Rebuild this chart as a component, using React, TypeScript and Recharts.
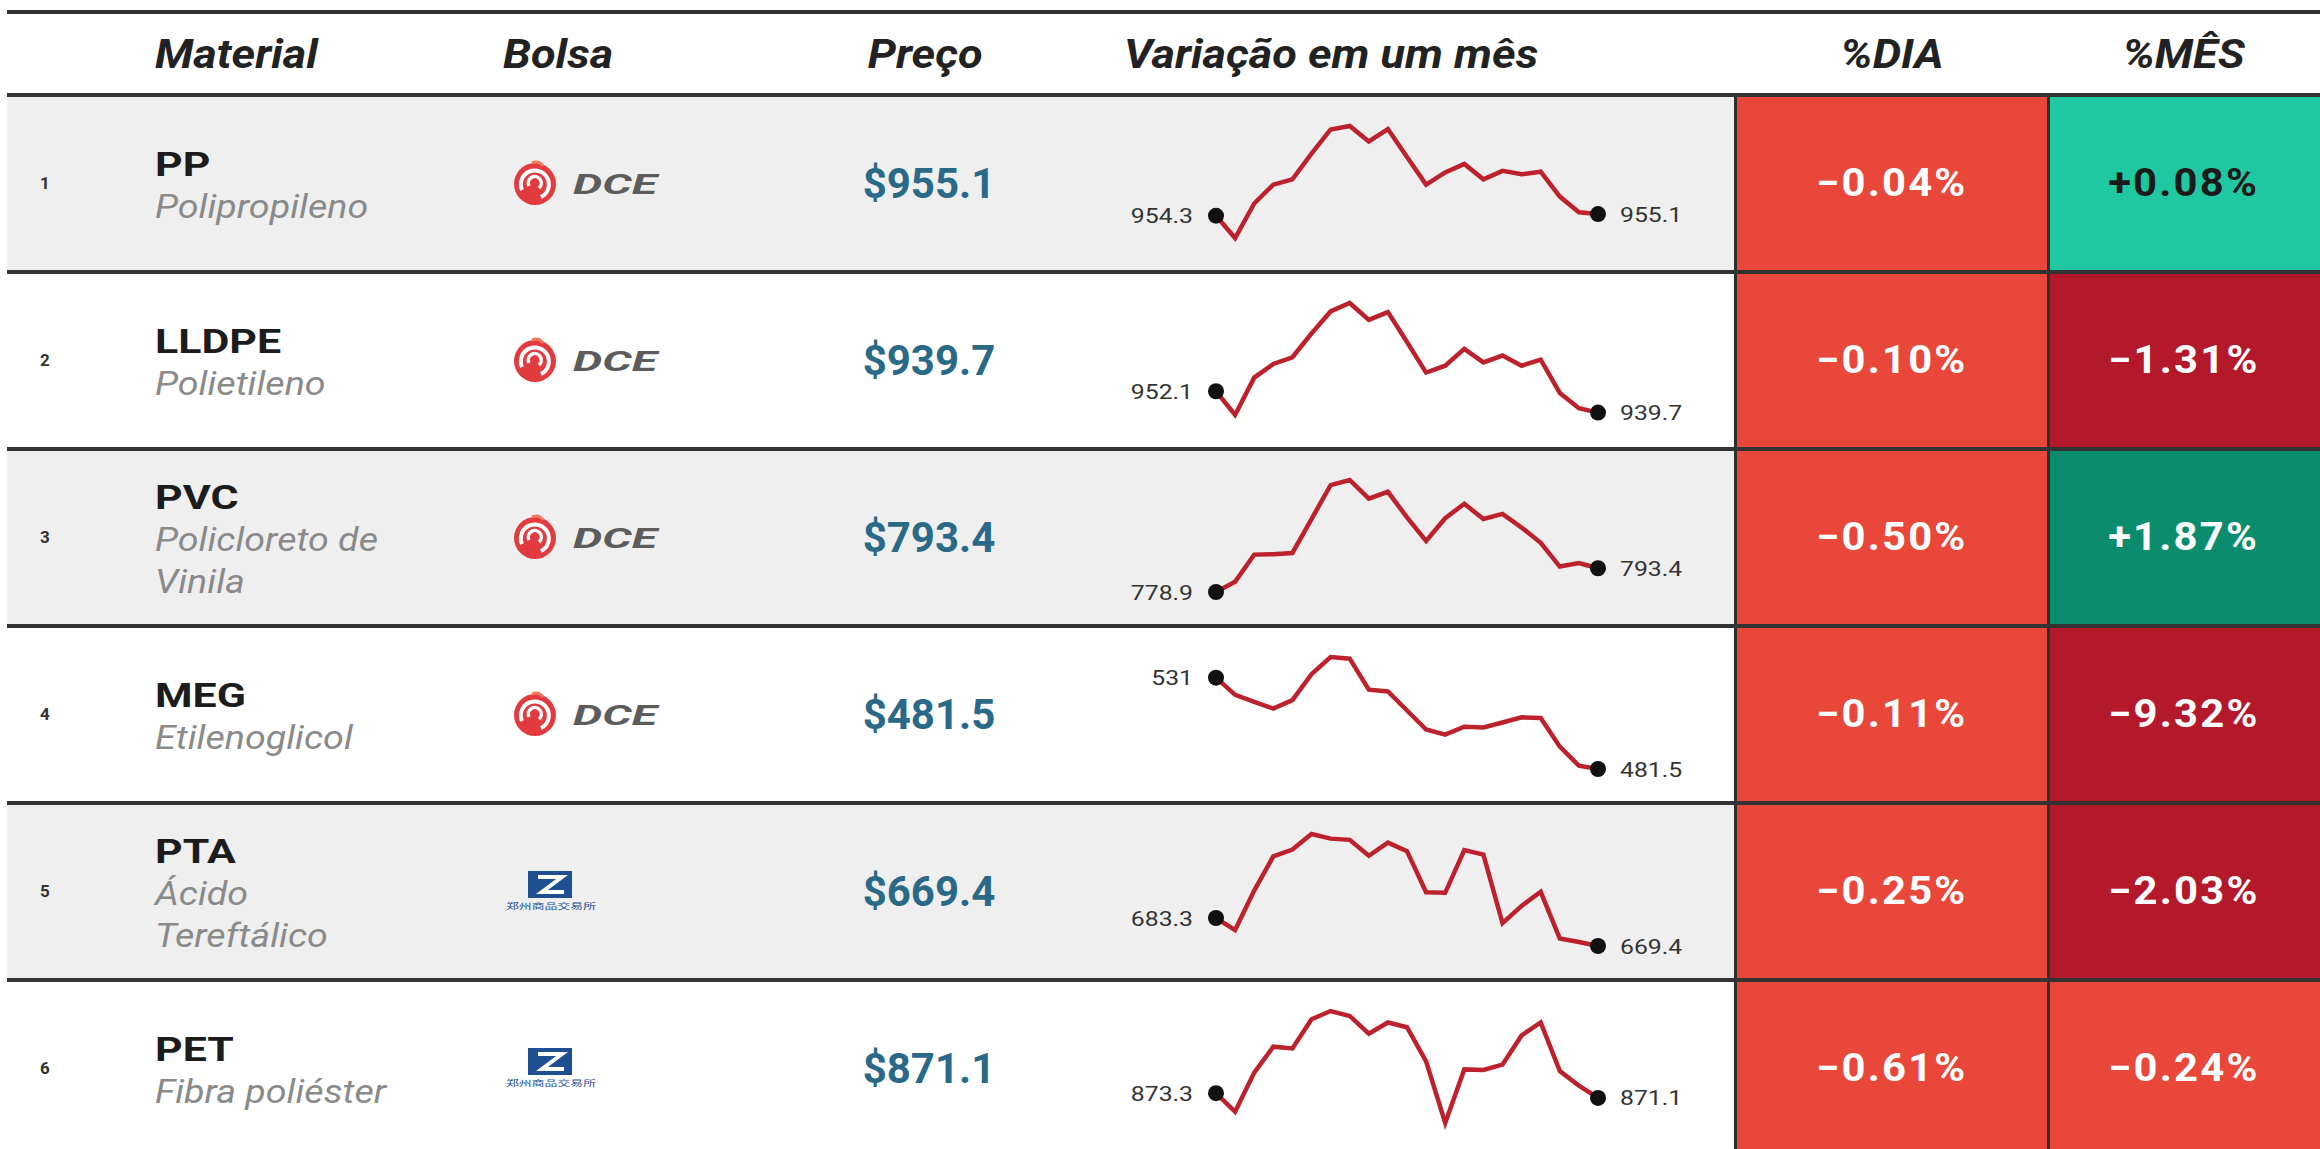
import React from "react"
import { LineChart, Line, XAxis, YAxis } from "recharts"

const INDICES = [1, 2, 3, 4, 5, 6]
const MATERIALS = ["PP", "LLDPE", "PVC", "MEG", "PTA", "PET"]
const SUBTITLES = [
  "Polipropileno",
  "Polietileno",
  "Policloreto de\nVinila",
  "Etilenoglicol",
  "Ácido\nTereftálico",
  "Fibra poliéster",
]
const EXCHANGES = ["DCE", "DCE", "DCE", "DCE", "ZCE", "ZCE"]
const PRICES = [955.1, 939.7, 793.4, 481.5, 669.4, 871.1]
const DAY_CHANGE = [-0.04, -0.1, -0.5, -0.11, -0.25, -0.61]
const MONTH_CHANGE = [0.08, -1.31, 1.87, -9.32, -2.03, -0.24]
const HEADERS = ["Material", "Bolsa", "Preço", "Variação em um mês", "%DIA", "%MÊS"]

// one month of closes per material
const PP_SERIES = [954.3, 943.3, 960.3, 969.6, 972.2, 984.9, 996.8, 998.5, 990.9, 997.0, 983.2, 969.6, 975.6, 979.8, 972.2, 976.4, 974.7, 976.0, 963.7, 956.0, 955.1]
const LLDPE_SERIES = [952.1, 938.3, 960.0, 967.9, 971.8, 985.6, 998.4, 1003.3, 993.5, 998.0, 980.7, 962.9, 966.9, 976.7, 968.8, 972.8, 966.9, 970.4, 951.1, 942.2, 939.7]
const PVC_SERIES = [778.9, 785.1, 801.7, 801.9, 802.7, 823.4, 844.1, 847.2, 835.8, 840.0, 824.4, 810.0, 823.9, 832.7, 823.4, 826.5, 818.2, 808.9, 794.4, 796.5, 793.4]
const MEG_SERIES = [531, 521.7, 517.9, 514.2, 518.8, 532.9, 542.2, 541.3, 524.5, 523.5, 513.2, 502.9, 500.1, 504.4, 504.0, 506.7, 509.5, 509.2, 493.6, 483.3, 481.5]
const PTA_SERIES = [683.3, 677.3, 696.9, 713.9, 717.3, 725.0, 722.7, 722.1, 714.2, 720.7, 716.5, 696.1, 695.8, 717.0, 714.8, 680.7, 689.3, 696.3, 673.1, 671.4, 669.4]
const PET_SERIES = [873.3, 864.7, 882.8, 894.8, 894.0, 907.5, 911.3, 909.0, 900.8, 906.0, 903.8, 888.0, 859.5, 884.3, 884.0, 886.5, 900.0, 906.0, 883.5, 876.8, 871.1]
const SERIES = [PP_SERIES, LLDPE_SERIES, PVC_SERIES, MEG_SERIES, PTA_SERIES, PET_SERIES]

const FONT = "Roboto, 'Noto Sans', sans-serif"
const TOP_RULE = 12
const ROW_TOP = 95
const ROW_H = 177
const DIA_X = 1736
const MES_X = 2048

function pctColor(v: number) {
  if (v >= 1) return "#0b8d6d"
  if (v > 0) return "#1fc8a0"
  if (v > -1) return "#e8473a"
  return "#b3182b"
}

function fmtPct(v: number) {
  return (v > 0 ? "+" : "\u2212") + Math.abs(v).toFixed(2) + "%"
}

function fmtVal(v: number) {
  return Number.isInteger(v) ? String(v) : v.toFixed(1)
}

// the source picture is a bit wider than tall, so text gets stretched sideways
function Wide({ sx, origin = "left", children }: { sx: number; origin?: string; children: React.ReactNode }) {
  return (
    <span style={{ display: "inline-block", transform: `scaleX(${sx})`, transformOrigin: origin, whiteSpace: "pre" }}>
      {children}
    </span>
  )
}

function DceLogo() {
  return (
    <svg width={160} height={50}>
      <circle cx={25} cy={25} r={21} fill="#e23b3f" />
      <path d="M 12 31 A 14 14 0 1 1 31 38" stroke="#fff" strokeWidth={4} fill="none" />
      <path d="M 19 27 A 6.5 6.5 0 1 1 29 29" stroke="#fff" strokeWidth={3.5} fill="none" />
      <path d="M 22 4 Q 29 1 33 7" stroke="#f27a5c" strokeWidth={3} fill="none" />
      <text x={63} y={35} fontFamily={FONT} fontWeight={700} fontStyle="italic" fontSize={28}
        fill="#5c5c5c" textLength={84} lengthAdjust="spacingAndGlyphs">DCE</text>
    </svg>
  )
}

function ZceLogo() {
  return (
    <svg width={100} height={50}>
      <rect x={24} y={4} width={44} height={27} fill="#1f4f93" />
      <path d="M 34 10 L 58 10 L 38 25 L 60 25" stroke="#fff" strokeWidth={4} fill="none" />
      <text x={47} y={42} textAnchor="middle" fontFamily="'Noto Sans CJK SC'" fontSize={8}
        fill="#1f4f93" textLength={90} lengthAdjust="spacingAndGlyphs">郑州商品交易所</text>
    </svg>
  )
}

function Sparkline({ values }: { values: number[] }) {
  const data = values.map((v, i) => ({ i, v }))
  const last = values.length - 1
  const renderDot = (props: any) => {
    const { cx, cy, index, value } = props
    if (index !== 0 && index !== last) return <g key={index} />
    const left = index === 0
    return (
      <g key={index}>
        <circle cx={cx} cy={cy} r={8} fill="#111" />
        <g transform={`translate(${left ? cx - 23 : cx + 22}, ${cy}) scale(1.18, 1)`}>
          <text x={0} y={0} dy="0.36em" textAnchor={left ? "end" : "start"}
            fontFamily={FONT} fontSize={21} fill="#333">{fmtVal(value)}</text>
        </g>
      </g>
    )
  }
  return (
    <LineChart width={610} height={ROW_H} data={data}
      margin={{ top: 31, right: 122, bottom: 34, left: 106 }}>
      <XAxis dataKey="i" type="number" domain={[0, last]} hide />
      <YAxis domain={["dataMin", "dataMax"]} hide />
      <Line type="linear" dataKey="v" stroke="#bd222c" strokeWidth={4.5}
        dot={renderDot} activeDot={false} isAnimationActive={false} />
    </LineChart>
  )
}

const abs = (s: React.CSSProperties): React.CSSProperties => ({ position: "absolute", ...s })

export default function App() {
  const rules = [TOP_RULE, ...INDICES.map((_, i) => ROW_TOP + i * ROW_H)]
  const headH = ROW_TOP - TOP_RULE
  const headStyle: React.CSSProperties = {
    fontFamily: FONT, fontWeight: 700, fontStyle: "italic", fontSize: 41, color: "#222",
    lineHeight: headH + "px", top: TOP_RULE + 1, height: headH, whiteSpace: "nowrap",
  }
  const pctStyle: React.CSSProperties = {
    height: ROW_H, lineHeight: ROW_H + "px", textAlign: "center", fontFamily: FONT,
    fontWeight: 700, fontSize: 38, letterSpacing: 2,
  }
  return (
    <div style={abs({ left: 0, top: 0, width: 2320, height: 1149, background: "#fff", overflow: "hidden" })}>
      {INDICES.map((n, i) => (
        <div key={"bg" + n} style={abs({
          left: 7, top: ROW_TOP + i * ROW_H, width: 2313, height: ROW_H,
          background: i % 2 === 0 ? "#efefef" : "#fff",
        })} />
      ))}

      {/* header */}
      <div style={abs({ ...headStyle, left: 155 })}><Wide sx={1.1}>{HEADERS[0]}</Wide></div>
      <div style={abs({ ...headStyle, left: 503 })}><Wide sx={1.1}>{HEADERS[1]}</Wide></div>
      <div style={abs({ ...headStyle, left: 825, width: 200, textAlign: "center" })}>
        <Wide sx={1.1} origin="center">{HEADERS[2]}</Wide>
      </div>
      <div style={abs({ ...headStyle, left: 1124 })}><Wide sx={1.1}>{HEADERS[3]}</Wide></div>
      <div style={abs({ ...headStyle, left: DIA_X, width: MES_X - DIA_X, textAlign: "center" })}>
        <Wide sx={1.1} origin="center">{HEADERS[4]}</Wide>
      </div>
      <div style={abs({ ...headStyle, left: MES_X, width: 2320 - MES_X, textAlign: "center" })}>
        <Wide sx={1.1} origin="center">{HEADERS[5]}</Wide>
      </div>

      {INDICES.map((n, i) => {
        const top = ROW_TOP + i * ROW_H
        const mes = MONTH_CHANGE[i]
        return (
          <React.Fragment key={n}>
            <div style={abs({ left: 40, top, width: 30, height: ROW_H, lineHeight: ROW_H + "px",
              fontFamily: FONT, fontWeight: 700, fontSize: 17, color: "#333" })}>{n}</div>
            <div style={abs({ left: 155, top: top + 2, width: 320, height: ROW_H, display: "flex",
              flexDirection: "column", justifyContent: "center", fontFamily: FONT, lineHeight: "42px" })}>
              <div style={{ fontWeight: 700, fontSize: 33, color: "#1c1c1c" }}>
                <Wide sx={1.3}>{MATERIALS[i]}</Wide>
              </div>
              {SUBTITLES[i].split("\n").map((line) => (
                <div key={line} style={{ fontStyle: "italic", fontSize: 33, color: "#8a8a8a" }}>
                  <Wide sx={1.14}>{line}</Wide>
                </div>
              ))}
            </div>
            <div style={abs({ left: EXCHANGES[i] === "DCE" ? 510 : 504, top: top + ROW_H / 2 - 25 })}>
              {EXCHANGES[i] === "DCE" ? <DceLogo /> : <ZceLogo />}
            </div>
            <div style={abs({ left: 829, top, width: 200, height: ROW_H, lineHeight: ROW_H + "px",
              textAlign: "center", fontFamily: FONT, fontWeight: 700, fontSize: 42, color: "#2a6987" })}>
              {"$" + PRICES[i].toFixed(1)}
            </div>
            <div style={abs({ left: 1110, top })}>
              <Sparkline values={SERIES[i]} />
            </div>
            <div style={abs({ ...pctStyle, left: DIA_X, top, width: MES_X - DIA_X,
              background: pctColor(DAY_CHANGE[i]), color: "#fff" })}>
              <Wide sx={1.1} origin="center">{fmtPct(DAY_CHANGE[i])}</Wide>
            </div>
            <div style={abs({ ...pctStyle, left: MES_X, top, width: 2320 - MES_X, background: pctColor(mes),
              color: mes > 0 && mes < 1 ? "#1a1a1a" : "#fff" })}>
              <Wide sx={1.1} origin="center">{fmtPct(mes)}</Wide>
            </div>
            <div style={abs({ left: DIA_X - 2, top, width: 3, height: ROW_H, background: "#2e2e2e" })} />
            <div style={abs({ left: MES_X - 1, top, width: 3, height: ROW_H, background: "#2e2e2e" })} />
          </React.Fragment>
        )
      })}

      {rules.map((y) => (
        <div key={"r" + y} style={abs({ left: 7, top: y - 2, width: 2313, height: 4, background: "#333" })} />
      ))}
    </div>
  )
}
